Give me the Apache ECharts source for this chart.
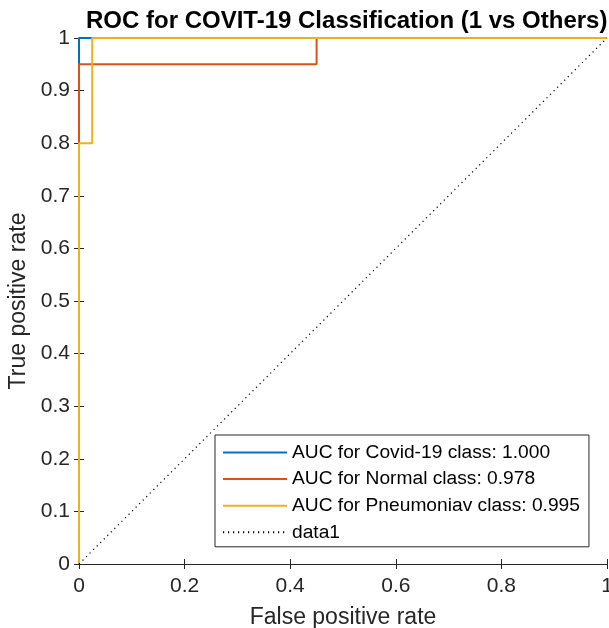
<!DOCTYPE html>
<html>
<head>
<meta charset="utf-8">
<script src="https://cdn.jsdelivr.net/npm/echarts@6/dist/echarts.min.js"></script>
<style>html,body{margin:0;padding:0;background:#fff}#c{width:609px;height:628px}</style>
</head>
<body>
<div id="c"></div>
<script>
const titleText = 'ROC for COVIT-19 Classification (1 vs Others)';
const xName = 'False positive rate';
const yName = 'True positive rate';
const seriesNames = ['AUC for Covid-19 class: 1.000', 'AUC for Normal class: 0.978', 'AUC for Pneumoniav class: 0.995', 'data1'];
const covidFpr = [0, 0, 1];
const covidTpr = [0, 1, 1];
const normalFpr = [0, 0, 0.45, 0.45, 1];
const normalTpr = [0, 0.95, 0.95, 1, 1];
const pneuFpr = [0, 0, 0.025, 0.025, 1];
const pneuTpr = [0, 0.8, 0.8, 1, 1];
const diagFpr = [0, 1];
const diagTpr = [0, 1];
const colors = ['#0072BD', '#D95319', '#EDB120', '#000000'];

const FONT = "'Liberation Sans', Arial, Helvetica, sans-serif";
const AX = '#262626';
function pairs(xs, ys) { return xs.map((x, i) => [x, ys[i]]); }
function fmt(v) { return String(+(+v).toFixed(1)); }

const chart = echarts.init(document.getElementById('c'));
const baseAxis = {
  type: 'value', min: 0, max: 1,
  axisLine: { show: true, lineStyle: { color: AX, width: 1 } },
  axisTick: { show: true, inside: true, length: 5, lineStyle: { color: AX } },
  splitLine: { show: false }
};
chart.setOption({
  animation: false,
  backgroundColor: '#fff',
  title: {
    text: titleText, left: 81, top: 4,
    textStyle: { fontFamily: FONT, fontSize: 24, fontWeight: 'bold', color: '#000' }
  },
  grid: { left: 79, right: 2, top: 38, bottom: 64, containLabel: false, outerBoundsMode: 'none' },
  xAxis: [
    Object.assign({}, baseAxis, {
      position: 'bottom', interval: 0.2,
      name: xName, nameLocation: 'middle', nameGap: 42,
      nameTextStyle: { fontFamily: FONT, fontSize: 23, color: AX },
      axisLabel: { show: true, margin: 12, fontFamily: FONT, fontSize: 21, color: AX, formatter: fmt }
    }),
    Object.assign({}, baseAxis, {
      position: 'top', interval: 0.2, axisLabel: { show: false }
    })
  ],
  yAxis: [
    Object.assign({}, baseAxis, {
      position: 'left', interval: 0.1,
      name: yName, nameLocation: 'middle', nameGap: 41,
      nameTextStyle: { fontFamily: FONT, fontSize: 23, color: AX },
      axisLabel: { show: true, margin: 9, fontFamily: FONT, fontSize: 21, color: AX, formatter: fmt }
    }),
    Object.assign({}, baseAxis, {
      position: 'right', interval: 0.1, axisLabel: { show: false }
    })
  ],
  legend: {
    orient: 'vertical', left: 215, top: 435,
    padding: [8, 9, 5, 7],
    itemWidth: 64, itemHeight: 14, itemGap: 7.6,
    backgroundColor: '#fff', borderColor: AX, borderWidth: 1, borderRadius: 0,
    itemStyle: { opacity: 0 },
    textStyle: { fontFamily: FONT, fontSize: 19.2, color: '#000' },
    data: seriesNames
  },
  series: [
    { name: seriesNames[0], type: 'line', data: pairs(covidFpr, covidTpr), showSymbol: false, symbol: 'none', clip: false,
      lineStyle: { color: colors[0], width: 2 }, itemStyle: { color: colors[0] } },
    { name: seriesNames[1], type: 'line', data: pairs(normalFpr, normalTpr), showSymbol: false, symbol: 'none', clip: false,
      lineStyle: { color: colors[1], width: 2 }, itemStyle: { color: colors[1] } },
    { name: seriesNames[2], type: 'line', data: pairs(pneuFpr, pneuTpr), showSymbol: false, symbol: 'none', clip: false,
      lineStyle: { color: colors[2], width: 2 }, itemStyle: { color: colors[2] } },
    { name: seriesNames[3], type: 'line', data: pairs(diagFpr, diagTpr), showSymbol: false, symbol: 'none', clip: false,
      lineStyle: { color: colors[3], width: 1.2, type: [1.2, 3.8] }, itemStyle: { color: colors[3] } }
  ]
});
</script>
</body>
</html>
